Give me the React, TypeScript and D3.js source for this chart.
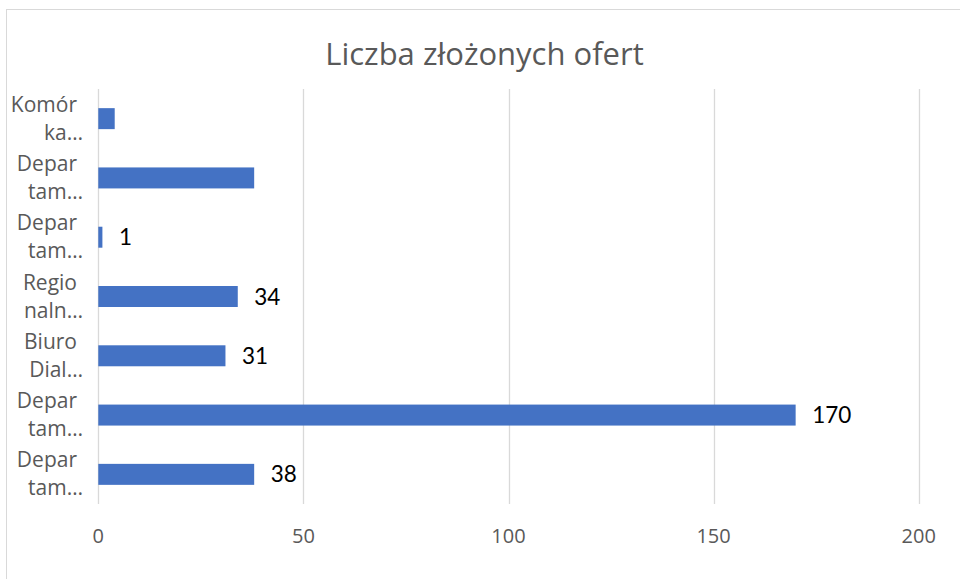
import React from "react";
import * as d3 from "d3";

const categoryLines: string[][] = [
  ["Komór", "ka…"],
  ["Depar", "tam…"],
  ["Depar", "tam…"],
  ["Regio", "naln…"],
  ["Biuro", "Dial…"],
  ["Depar", "tam…"],
  ["Depar", "tam…"],
];
const categoryIds = ["c0", "c1", "c2", "c3", "c4", "c5", "c6"];
const values = [4, 38, 1, 34, 31, 170, 38];
const showLabel = [false, false, true, true, true, true, true];
const xTicks = [0, 50, 100, 150, 200];
const title = "Liczba złożonych ofert";

const W = 960;
const H = 579;
const plotLeft = 98.3;
const plotRight = 918.7;
const plotTop = 89;
const plotBottom = 504;

export default function App() {
  const x = d3.scaleLinear().domain([0, 200]).range([plotLeft, plotRight]);
  const y = d3
    .scaleBand<string>()
    .domain(categoryIds)
    .range([plotTop, plotBottom])
    .paddingInner(0.646)
    .paddingOuter(0.323);
  const axisFont = "'Open Sans', 'Noto Sans', sans-serif";
  const labelFont = "Lato, 'Liberation Sans', sans-serif";

  return (
    <svg
      width={W}
      height={H}
      style={{ position: "absolute", left: 0, top: 0, display: "block", background: "#fff" }}
    >
      <rect x={0} y={0} width={W} height={H} fill="#fff" />
      <rect x={6.5} y={9.5} width={W + 20} height={H + 20} fill="#fff" stroke="#d9d9d9" strokeWidth={1} />
      <text
        x={484.5}
        y={65}
        textAnchor="middle"
        fontFamily={axisFont}
        fontSize={31}
        fill="#595959"
      >
        {title}
      </text>
      {xTicks.map((t) => (
        <g key={t}>
          <line
            x1={Math.round(x(t)) + 0.5}
            x2={Math.round(x(t)) + 0.5}
            y1={plotTop}
            y2={plotBottom}
            stroke="#d9d9d9"
            strokeWidth={1.3}
          />
          <text
            x={x(t)}
            y={543}
            textAnchor="middle"
            fontFamily={axisFont}
            fontSize={20}
            fill="#595959"
          >
            {t}
          </text>
        </g>
      ))}
      {categoryIds.map((id, i) => {
        const by = y(id) as number;
        const cy = by + y.bandwidth() / 2;
        return (
          <g key={id}>
            <rect
              x={x(0)}
              y={by}
              width={x(values[i]) - x(0)}
              height={y.bandwidth()}
              fill="#4472c4"
            />
            {showLabel[i] && (
              <text
                x={x(values[i]) + 16.5}
                y={cy + 8}
                fontFamily={labelFont}
                fontSize={22.5}
                fill="#000"
              >
                {values[i]}
              </text>
            )}
            <text
              x={77}
              y={cy - 7}
              textAnchor="end"
              fontFamily={axisFont}
              fontSize={21}
              fill="#595959"
            >
              {categoryLines[i][0]}
            </text>
            <text
              x={83}
              y={cy + 21}
              textAnchor="end"
              fontFamily={axisFont}
              fontSize={21}
              fill="#595959"
            >
              {categoryLines[i][1]}
            </text>
          </g>
        );
      })}
    </svg>
  );
}
